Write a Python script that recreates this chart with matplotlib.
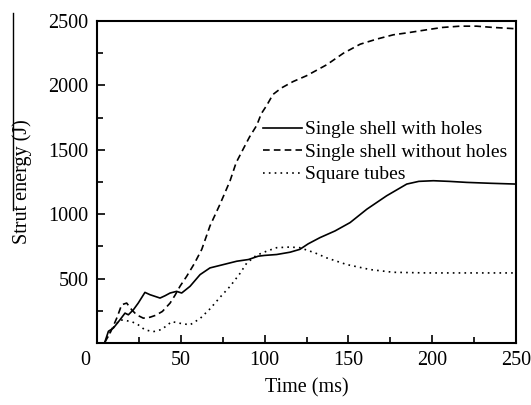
import matplotlib
matplotlib.use("Agg")
import matplotlib.pyplot as plt
import matplotlib.transforms as mtransforms
from matplotlib.lines import Line2D
from matplotlib.ticker import MultipleLocator

# Single shell with holes
t_holes = [4.5, 6.8, 9.7, 13.7, 16.7, 18.7, 21.7, 24.6, 28.6, 31.6, 34.6, 37.6,
           40.6, 43.6, 47.5, 50.5, 55.5, 61.5, 67.4, 75.4, 83.4, 90.3, 96.2, 100,
           107.2, 115.2, 121, 126, 133, 142, 151, 161, 172.8, 184.8, 192, 200.7,
           210, 220.6, 235, 250]
e_holes = [0, 91, 115, 180, 232, 219, 258, 310, 393, 375, 362, 349,
           367, 388, 401, 388, 440, 531, 583, 609, 635, 648, 674, 680,
           687, 705, 727, 770, 818, 870, 935, 1039, 1143, 1234, 1255, 1260,
           1255, 1247, 1240, 1234]

# Single shell without holes
t_noholes = [4.5, 9, 12, 14.7, 17.7, 20.7, 23.6, 27.6, 31.6, 35, 39, 43.6, 46.5,
             49.5, 53.5, 58, 62.5, 67.4, 73.4, 79.4, 83, 87.3, 91, 95.3, 98,
             101.3, 105, 110, 117, 125, 137, 147, 157, 167, 176.8, 186, 196.7,
             206, 216.6, 226.5, 236.5, 250]
e_noholes = [0, 110, 200, 297, 310, 258, 219, 193, 200, 215, 245, 310, 370,
             440, 518, 615, 727, 909, 1078, 1260, 1400, 1508, 1600, 1690, 1780,
             1846, 1930, 1980, 2030, 2075, 2160, 2250, 2320, 2360, 2393, 2410, 2432,
             2450, 2460, 2460, 2450, 2440]

# Square tubes
t_square = [4.5, 9, 13.7, 16.7, 20.7, 24.6, 28.6, 33.6, 38.6, 44.6, 49.5, 55.5,
            61.5, 67.4, 73.4, 79.4, 85.3, 89.3, 95, 101.2, 107.2, 115, 121, 130,
            137, 149, 163, 176.8, 196.7, 220, 250]
e_square = [0, 110, 180, 175, 166, 141, 102, 88, 105, 166, 153, 141,
            190, 265, 355, 440, 540, 620, 680, 713, 740, 745, 740, 700,
            661, 609, 570, 549, 544, 544, 544]

x_ticks = [0, 50, 100, 150, 200, 250]
y_ticks = [500, 1000, 1500, 2000, 2500]

plt.rcParams["font.family"] = ["Liberation Serif", "DejaVu Serif"]

fig = plt.figure(figsize=(5.31, 4.05), dpi=100)
ax = fig.add_axes([0.1827, 0.1531, 0.7891, 0.795])

ax.plot(t_holes, e_holes, color="black", lw=1.2, ls="-",
        label="Single shell with holes")
ax.plot(t_noholes, e_noholes, color="black", lw=1.2, ls=(0, (4, 2.5)),
        label="Single shell without holes")
ax.plot(t_square, e_square, color="black", lw=1.2, ls=(0, (1, 2.5)),
        label="Square tubes")

ax.set_xlim(0, 250)
ax.set_ylim(0, 2500)
ax.set_xticks(x_ticks)
ax.set_yticks(y_ticks)
ax.xaxis.set_minor_locator(MultipleLocator(25))
ax.yaxis.set_minor_locator(MultipleLocator(250))
ax.tick_params(which="both", direction="in", labelsize=14.5, top=False, right=False)
ax.tick_params(which="major", length=6, width=1.2, pad=6)
ax.tick_params(which="minor", length=4, width=1.2)
for sp in ax.spines.values():
    sp.set_linewidth(1.5)

# shift the "0" label left a little, like the original
lbl0 = ax.get_xticklabels()[0]
lbl0.set_transform(lbl0.get_transform() +
                   mtransforms.ScaledTranslation(-0.12, 0, fig.dpi_scale_trans))

ax.set_xlabel("Time (ms)", fontsize=14.5, labelpad=6)
ax.set_ylabel("Strut energy (J)", fontsize=14.5, labelpad=12)

ax.legend(loc="upper left", bbox_to_anchor=(0.396, 0.69), frameon=False,
          fontsize=14, handlelength=2.0, handletextpad=0.15,
          labelspacing=0.25, borderpad=0, borderaxespad=0)

# stray vertical rule over the y label in the original scan
fig.add_artist(Line2D([13 / 531, 13 / 531], [1 - 13 / 405, 1 - 210 / 405],
                      color="black", lw=1.0, transform=fig.transFigure))

fig.savefig("out.png", dpi=100)
